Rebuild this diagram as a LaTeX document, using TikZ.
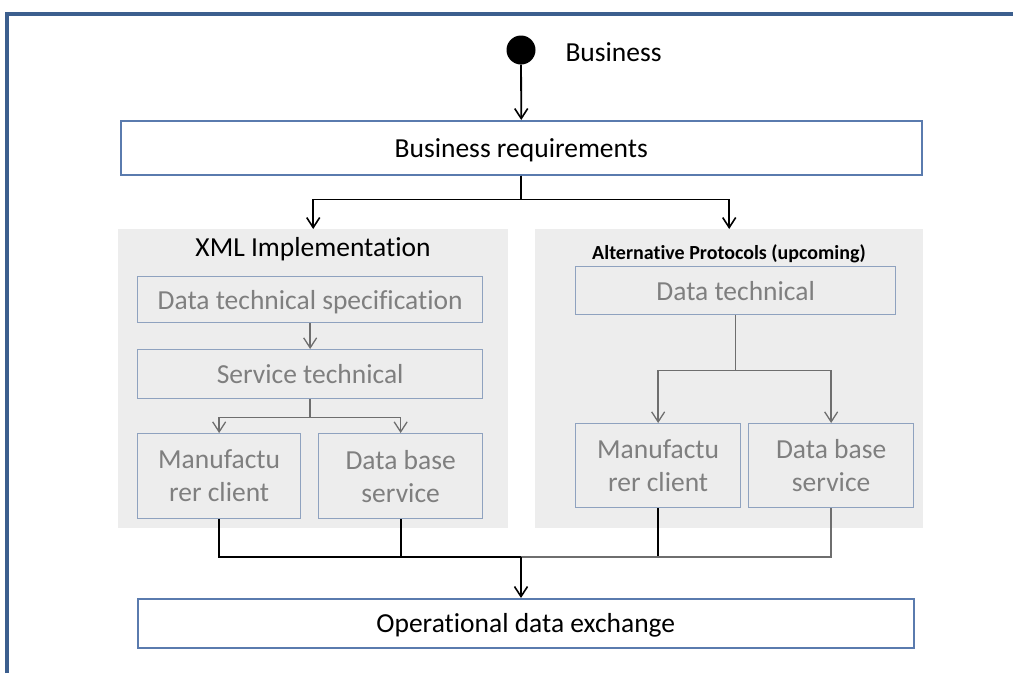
\documentclass[tikz,border=0pt]{standalone}
\usepackage{fontspec}
\setmainfont[Ligatures=NoCommon]{Carlito}
\usetikzlibrary{arrows.meta}
\definecolor{frameblue}{HTML}{3C5F8E}
\definecolor{outerblue}{HTML}{5A7BAE}
\definecolor{innerblue}{HTML}{8FA2BF}
\definecolor{panelgray}{HTML}{EDEDED}
\definecolor{txtgray}{HTML}{7F7F7F}
\definecolor{linegray}{HTML}{6E6E6E}
\tikzset{
  outerbox/.style={draw=outerblue, line width=1.5pt, fill=white, inner sep=0pt, anchor=north west, text depth=0pt, font=\fontsize{27.5}{30}\selectfont},
  innerbox/.style={draw=innerblue, line width=1.3pt, fill=panelgray, inner sep=0pt, anchor=north west, text=txtgray, align=center, font=\fontsize{27.5}{33}\selectfont},
  oneline/.style={text depth=0pt},
  panel/.style={fill=panelgray, inner sep=0pt, anchor=north west},
  arr/.style={line width=1.8pt, -{Straight Barb[length=10pt,width=13pt,line width=1.6pt]}},
  garr/.style={draw=linegray, line width=1.5pt, -{Straight Barb[length=10pt,width=13pt,line width=1.3pt]}},
  bline/.style={line width=1.8pt},
}
\begin{document}
\begin{tikzpicture}[x=1pt,y=-1pt]
\useasboundingbox (0,0) rectangle (1013,673);
% frame
\draw[frameblue, line width=4pt] (6.5,673) -- (6.5,13.5) -- (1013,13.5);
% top
\node[circle, fill=black, minimum size=29pt, inner sep=0pt] (start) at (521,50) {};
\node[anchor=west, font=\fontsize{27.5}{30}\selectfont] (bizlbl) at (562,52) {Business};
\node[outerbox, minimum width=801pt, minimum height=54pt] (req) at (120,120) {Business requirements};
% panels
\node[panel, minimum width=390pt, minimum height=299pt] (pL) at (118,229) {};
\node[panel, minimum width=388pt, minimum height=299pt] (pR) at (535,229) {};
\node[font=\fontsize{27.5}{30}\selectfont] (xmlt) at (313,249) {XML Implementation};
\node[font=\bfseries\fontsize{20}{22}\selectfont] (altt) at (729,254) {Alternative Protocols (upcoming)};
% left panel boxes
\node[innerbox, oneline, minimum width=345pt, minimum height=46pt] (dts) at (137,276) {Data technical specification};
\node[innerbox, oneline, minimum width=345pt, minimum height=49pt] (st) at (137,349) {Service technical};
\node[innerbox, minimum width=163pt, minimum height=85pt] (mcL) at (137,433) {Manufactu\\rer client};
\node[innerbox, minimum width=164pt, minimum height=85pt] (dbL) at (318,433) {Data base\\service};
% right panel boxes
\node[innerbox, oneline, minimum width=320pt, minimum height=48pt] (dt) at (575,266) {Data technical};
\node[innerbox, minimum width=165pt, minimum height=84pt] (mcR) at (575,423) {Manufactu\\rer client};
\node[innerbox, minimum width=165pt, minimum height=84pt] (dbR) at (748,423) {Data base\\service};
% bottom
\node[outerbox, minimum width=776pt, minimum height=49pt] (ode) at (137,598) {Operational data exchange};
% connectors
\draw[arr] (start) -- (req.north);
\draw[arr] (req.south) -- ++(0,24) -| (pL.north);
\draw[arr] (req.south) -- ++(0,24) -| (pR.north);
\draw[garr] (dts.south) -- (st.north);
\draw[garr] (st.south) -- ++(0,18) -| (mcL.north);
\draw[garr] (st.south) -- ++(0,18) -| (dbL.north);
\draw[garr] (dt.south) -- ++(0,55) -| (mcR.north);
\draw[garr] (dt.south) -- ++(0,55) -| (dbR.north);
\coordinate (j) at (521,557);
\draw[bline] (mcL.south) |- (j);
\draw[bline] (dbL.south) |- (j);
\draw[bline] (mcR.south) |- (j);
\draw[bline, draw=linegray] (dbR.south) |- (j);
\draw[arr] (j) -- (j |- ode.north);
\end{tikzpicture}
\end{document}
